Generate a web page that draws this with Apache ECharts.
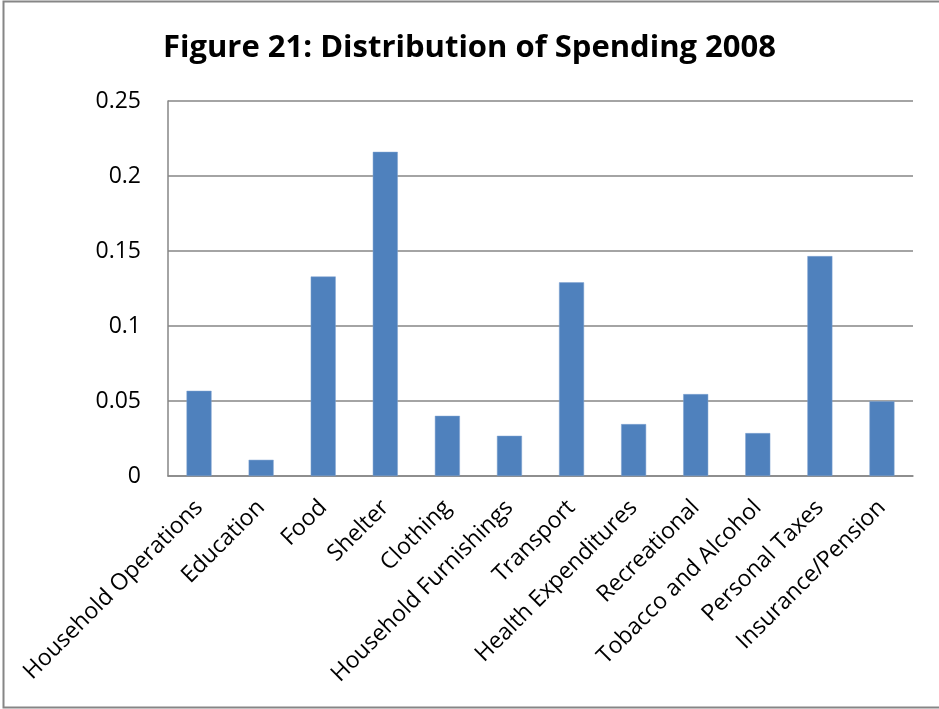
<!DOCTYPE html>
<html>
<head>
<meta charset="utf-8">
<title>Distribution of Spending 2008</title>
<script src="https://cdn.jsdelivr.net/npm/echarts@6/dist/echarts.min.js"></script>
<style>
  html, body { margin: 0; padding: 0; background: #ffffff; }
  #chart { width: 939px; height: 709px; }
</style>
</head>
<body>
<div id="chart"></div>
<script>
// Spending categories and their share of total spending (2008)
const categories = [
  'Household Operations', 'Education', 'Food', 'Shelter', 'Clothing',
  'Household Furnishings', 'Transport', 'Health Expenditures', 'Recreational',
  'Tobacco and Alcohol', 'Personal Taxes', 'Insurance/Pension'
];
const shares = [
  0.0568, 0.0108, 0.1330, 0.2161, 0.0401,
  0.0268, 0.1291, 0.0346, 0.0546,
  0.0286, 0.1466, 0.0498
];
const yTicks = { min: 0, max: 0.25, interval: 0.05 };

const chart = echarts.init(document.getElementById('chart'), null, { renderer: 'canvas' });

const gridGray = '#868686';
const font = '"Open Sans", "DejaVu Sans", sans-serif';

chart.setOption({
  backgroundColor: '#ffffff',
  animation: false,
  title: {
    text: 'Figure 21: Distribution of Spending 2008',
    left: 'center',
    top: 28,
    textStyle: {
      fontFamily: font,
      fontWeight: 'bold',
      fontSize: 31,
      color: '#000000'
    }
  },
  graphic: [{
    // outer chart frame (left, top and bottom edges visible)
    type: 'rect',
    shape: { x: 3.5, y: 1.5, width: 960, height: 706 },
    style: { fill: 'none', stroke: gridGray, lineWidth: 2 },
    silent: true,
    z: -1
  }],
  grid: {
    left: 168,
    right: 26,
    top: 101,
    bottom: 233,
    containLabel: false
  },
  xAxis: {
    type: 'category',
    data: categories,
    axisLine: { show: true, lineStyle: { color: gridGray, width: 1.5 } },
    axisTick: { show: false },
    axisLabel: {
      rotate: 45,
      interval: 0,
      margin: 28,
      fontFamily: font,
      fontSize: 23,
      color: '#000000'
    }
  },
  yAxis: {
    type: 'value',
    min: yTicks.min,
    max: yTicks.max,
    interval: yTicks.interval,
    axisLine: { show: true, lineStyle: { color: gridGray, width: 1.5 } },
    axisTick: { show: false },
    splitLine: { show: true, lineStyle: { color: gridGray, width: 1.5 } },
    axisLabel: {
      margin: 27,
      fontFamily: font,
      fontSize: 23,
      color: '#000000'
    }
  },
  series: [{
    type: 'bar',
    data: shares,
    barWidth: 25,
    itemStyle: {
      color: '#4F81BD',
      borderColor: '#7FA3D0',
      borderWidth: 0.5
    }
  }]
});
</script>
</body>
</html>
